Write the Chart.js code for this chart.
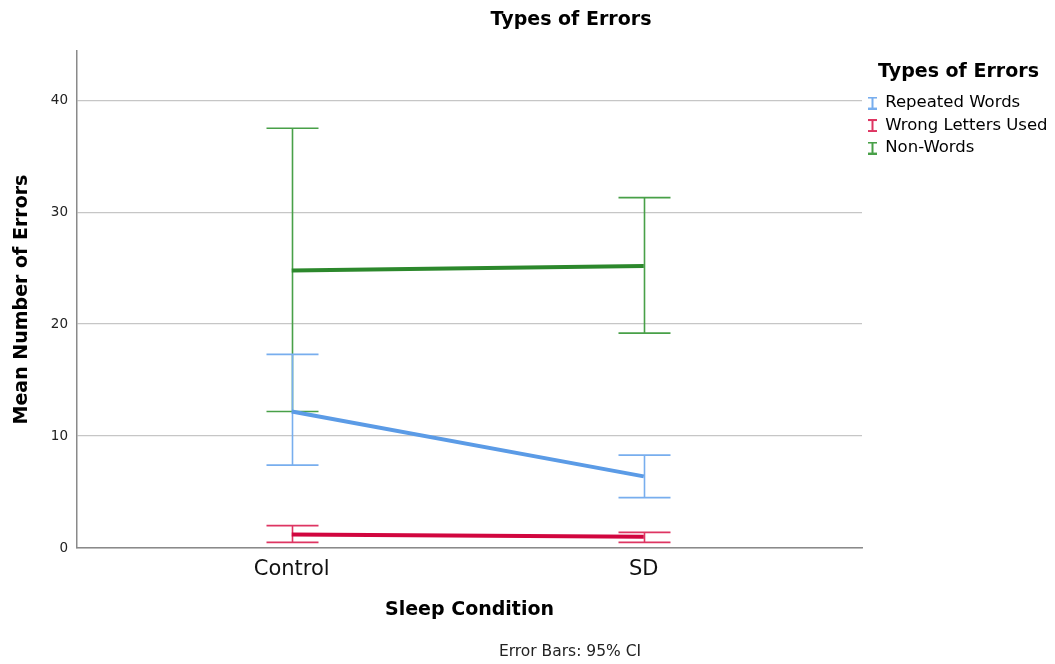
<!DOCTYPE html>
<html lang="en">
<head>
    <meta charset="UTF-8">
    <title>Types of Errors</title>
    <script src="https://cdn.jsdelivr.net/npm/chart.js"></script>
    <style>
        body { margin: 0; background: #fff; }
        #wrap { width: 1055px; height: 664px; }
    </style>
</head>
<body>
    <div id="wrap"><canvas id="errChart"></canvas></div>

    <script>
        // data
        const categories = ['Control', 'SD'];
        const seriesNames = ['Repeated Words', 'Wrong Letters Used', 'Non-Words'];
        const repeatedMean = [12.2, 6.4];
        const repeatedLow = [7.4, 4.5];
        const repeatedHigh = [17.3, 8.3];
        const wrongMean = [1.2, 1.0];
        const wrongLow = [0.5, 0.5];
        const wrongHigh = [2.0, 1.4];
        const nonMean = [24.8, 25.2];
        const nonLow = [12.2, 19.2];
        const nonHigh = [37.5, 31.3];
        const yTicks = [0, 10, 20, 30, 40];

        const lineColors = ['#5b9be6', '#d1063f', '#2c882c'];
        const barColors = ['#78aeee', '#de3562', '#48a048'];

        const FONT = '"DejaVu Sans", sans-serif';

        // little "I" glyph for the legend
        function makeIcon(color) {
            const c = document.createElement('canvas');
            c.width = 9; c.height = 13;
            const g = c.getContext('2d');
            g.strokeStyle = color;
            g.lineWidth = 2;
            g.beginPath();
            g.moveTo(0, 1); g.lineTo(9, 1);
            g.moveTo(4.5, 1); g.lineTo(4.5, 12);
            g.moveTo(0, 12); g.lineTo(9, 12);
            g.stroke();
            return c;
        }

        function pts(vals) {
            return vals.map((v, i) => ({ x: i, y: v }));
        }

        const means = [repeatedMean, wrongMean, nonMean];
        const lows = [repeatedLow, wrongLow, nonLow];
        const highs = [repeatedHigh, wrongHigh, nonHigh];

        // error bars drawn under the mean lines
        const errorBars = {
            id: 'errorBars',
            beforeDatasetsDraw(chart) {
                const ctx = chart.ctx;
                const xs = chart.scales.x, ys = chart.scales.y;
                const cap = 26;
                ctx.save();
                ctx.lineWidth = 1.6;
                for (let s = means.length - 1; s >= 0; s--) {
                    ctx.strokeStyle = barColors[s];
                    for (let i = 0; i < categories.length; i++) {
                        const px = Math.round(xs.getPixelForValue(i)) + 0.5;
                        const lo = ys.getPixelForValue(lows[s][i]);
                        const hi = ys.getPixelForValue(highs[s][i]);
                        ctx.beginPath();
                        ctx.moveTo(px, lo); ctx.lineTo(px, hi);
                        ctx.moveTo(px - cap, hi); ctx.lineTo(px + cap, hi);
                        ctx.moveTo(px - cap, lo); ctx.lineTo(px + cap, lo);
                        ctx.stroke();
                    }
                }
                ctx.restore();
            }
        };

        // chart title and footnote
        const extraText = {
            id: 'extraText',
            afterDraw(chart) {
                const ctx = chart.ctx;
                ctx.save();
                ctx.fillStyle = '#000';
                ctx.textAlign = 'center';
                ctx.textBaseline = 'middle';
                ctx.font = 'bold 19px ' + FONT;
                ctx.fillText('Types of Errors', 571, 20);
                ctx.font = '15.5px ' + FONT;
                ctx.fillStyle = '#222';
                ctx.fillText('Error Bars: 95% CI', 570, 652);
                ctx.restore();
            }
        };

        const ctx = document.getElementById('errChart').getContext('2d');
        new Chart(ctx, {
            type: 'line',
            data: {
                datasets: seriesNames.map((name, s) => ({
                    label: name,
                    data: pts(means[s]),
                    borderColor: lineColors[s],
                    backgroundColor: lineColors[s],
                    borderWidth: 4,
                    pointRadius: 0,
                    pointHoverRadius: 0,
                    tension: 0,
                    fill: false
                }))
            },
            options: {
                responsive: true,
                maintainAspectRatio: false,
                animation: false,
                layout: { padding: { top: 51, left: 8, right: 0, bottom: 40 } },
                plugins: {
                    tooltip: { enabled: false },
                    legend: {
                        position: 'right',
                        align: 'start',
                        maxWidth: 193,
                        title: {
                            display: true,
                            text: 'Types of Errors',
                            color: '#000',
                            font: { family: FONT, size: 19, weight: 'bold' },
                            padding: { top: 12, bottom: 3 }
                        },
                        labels: {
                            color: '#222',
                            font: { family: FONT, size: 16.5 },
                            usePointStyle: true,
                            boxHeight: 13,
                            boxWidth: 9,
                            padding: 6,
                            generateLabels(chart) {
                                return chart.data.datasets.map((d, i) => ({
                                    text: d.label,
                                    fillStyle: lineColors[i],
                                    strokeStyle: lineColors[i],
                                    pointStyle: makeIcon(barColors[i]),
                                    lineWidth: 0,
                                    hidden: false,
                                    datasetIndex: i
                                }));
                            }
                        }
                    }
                },
                scales: {
                    x: {
                        type: 'linear',
                        min: -0.61,
                        max: 1.62,
                        afterBuildTicks(scale) {
                            scale.ticks = categories.map((c, i) => ({ value: i }));
                        },
                        afterFit(scale) { scale.height = 76; },
                        grid: { display: false, drawTicks: false },
                        border: { display: true, color: '#8a8a8a', width: 1.5 },
                        ticks: {
                            padding: 9,
                            color: '#111',
                            font: { family: FONT, size: 21 },
                            callback: (v) => categories[v]
                        },
                        title: {
                            display: true,
                            text: 'Sleep Condition',
                            color: '#000',
                            font: { family: FONT, size: 19, weight: 'bold' },
                            padding: { top: 10, bottom: 3 }
                        }
                    },
                    y: {
                        min: 0,
                        max: 44.4,
                        afterBuildTicks(scale) {
                            scale.ticks = yTicks.map(v => ({ value: v }));
                        },
                        afterFit(scale) { scale.width = 69; },
                        grid: { color: '#c6c6c6', lineWidth: 1.3, drawTicks: false },
                        border: { display: true, color: '#8a8a8a', width: 1.5 },
                        ticks: {
                            padding: 9,
                            color: '#222',
                            font: { family: FONT, size: 13.5 }
                        },
                        title: {
                            display: true,
                            text: 'Mean Number of Errors',
                            color: '#000',
                            font: { family: FONT, size: 19, weight: 'bold' },
                            padding: { top: 3, bottom: 8 }
                        }
                    }
                }
            },
            plugins: [errorBars, extraText]
        });
    </script>
</body>
</html>
